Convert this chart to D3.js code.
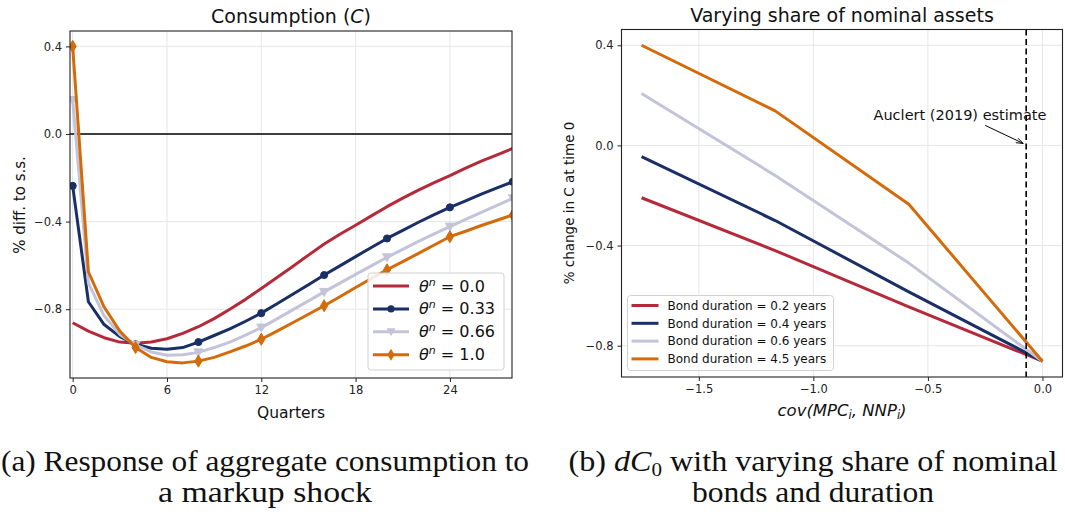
<!DOCTYPE html>
<html><head><meta charset="utf-8">
<script src="https://cdn.jsdelivr.net/npm/d3@7"></script>
<style>body{margin:0;background:#fff}svg{display:block;font-family:"DejaVu Sans",sans-serif}
.cap{font-family:"Liberation Serif","Times New Roman",Times,serif}</style>
</head><body>
<svg id="c" width="1065" height="515"></svg>
<script>
// ---------- data ----------
const quarters = d3.range(0, 29);
const thetaLabels = ["0.0", "0.33", "0.66", "1.0"];
const cTheta00 = [-0.862,-0.900,-0.930,-0.950,-0.955,-0.950,-0.935,-0.910,-0.880,-0.843,-0.800,-0.755,-0.705,-0.655,-0.605,-0.553,-0.502,-0.458,-0.417,-0.374,-0.332,-0.293,-0.256,-0.222,-0.190,-0.156,-0.124,-0.095,-0.066];
const cTheta33 = [-0.237,-0.766,-0.870,-0.925,-0.960,-0.978,-0.983,-0.975,-0.950,-0.920,-0.890,-0.855,-0.818,-0.775,-0.732,-0.688,-0.644,-0.602,-0.560,-0.518,-0.477,-0.440,-0.403,-0.368,-0.335,-0.305,-0.275,-0.246,-0.218];
const cTheta66 = [0.155,-0.680,-0.830,-0.915,-0.963,-0.995,-1.010,-1.008,-0.997,-0.975,-0.950,-0.918,-0.884,-0.844,-0.803,-0.762,-0.721,-0.681,-0.641,-0.602,-0.563,-0.527,-0.490,-0.456,-0.423,-0.390,-0.358,-0.326,-0.294];
const cTheta10 = [0.400,-0.629,-0.790,-0.900,-0.975,-1.020,-1.040,-1.045,-1.037,-1.020,-0.995,-0.968,-0.937,-0.900,-0.862,-0.823,-0.784,-0.743,-0.701,-0.660,-0.620,-0.583,-0.545,-0.507,-0.469,-0.444,-0.418,-0.394,-0.370];
const leftXTicks = [0, 6, 12, 18, 24];
const leftYTicks = [0.4, 0.0, -0.4, -0.8];

const covValues = [-1.75, -1.1667, -0.5833, 0.0];
const durationLabels = ["0.2", "0.4", "0.6", "4.5"];
const dur02 = [-0.209, -0.420, -0.645, -0.862];
const dur04 = [-0.045, -0.300, -0.585, -0.862];
const dur06 = [0.207, -0.120, -0.470, -0.862];
const dur45 = [0.400, 0.138, -0.235, -0.862];
const auclertEstimate = -0.071;
const rightXTicks = [-1.5, -1.0, -0.5, 0.0];
const rightYTicks = [0.4, 0.0, -0.4, -0.8];

const colors = ["#b52a3a", "#192f65", "#c3c3da", "#d36b0a"];

// ---------- helpers ----------
const svg = d3.select("#c");
const fmt = v => d3.format(".1f")(v).replace("-", "\u2212");
const TICK_FS = 11.5;

function axesFrame(g, x, y, xt, yt, w, h) {
  g.append("g").selectAll("line").data(xt).join("line")
    .attr("x1", d => x(d)).attr("x2", d => x(d)).attr("y1", 0).attr("y2", h)
    .attr("stroke", "#e6e6e6").attr("stroke-width", 1);
  g.append("g").selectAll("line").data(yt).join("line")
    .attr("y1", d => y(d)).attr("y2", d => y(d)).attr("x1", 0).attr("x2", w)
    .attr("stroke", "#e6e6e6").attr("stroke-width", 1);
}
function axesTicks(g, x, y, xt, yt, w, h) {
  const ax = g.append("g").attr("transform", `translate(0,${h})`)
    .call(d3.axisBottom(x).tickValues(xt).tickSize(4).tickPadding(4)
      .tickFormat(d => xt.every(Number.isInteger) ? String(d) : fmt(d)));
  const ay = g.append("g").call(d3.axisLeft(y).tickValues(yt).tickSize(4).tickPadding(4).tickFormat(fmt));
  [ax, ay].forEach(a => {
    a.select(".domain").remove();
    a.selectAll("line").attr("stroke", "#222");
    a.selectAll("text").attr("font-size", TICK_FS).attr("fill", "#222").style("font-family", "DejaVu Sans");
  });
  g.append("rect").attr("width", w).attr("height", h).attr("fill", "none")
    .attr("stroke", "#222").attr("stroke-width", 1.1);
}

// ---------- left panel ----------
{
  const L = {x: 70, y: 31, w: 442, h: 347};
  const g = svg.append("g").attr("transform", `translate(${L.x},${L.y})`);
  const x = d3.scaleLinear().domain([-0.17, 27.95]).range([0, L.w]);
  const y = d3.scaleLinear().domain([-1.114, 0.47]).range([L.h, 0]);
  axesFrame(g, x, y, leftXTicks, leftYTicks, L.w, L.h);
  g.append("clipPath").attr("id", "clipL").append("rect").attr("width", L.w).attr("height", L.h);
  const plot = g.append("g").attr("clip-path", "url(#clipL)");
  plot.append("line").attr("x1", 0).attr("x2", L.w).attr("y1", y(0)).attr("y2", y(0))
    .attr("stroke", "#000").attr("stroke-width", 1.6);
  const series = [cTheta00, cTheta33, cTheta66, cTheta10];
  const line = d3.line().x((d, i) => x(quarters[i])).y(d => y(d));
  const markers = [null, "circle", "triangle", "diamond"];
  const markerPath = (type) => {
    if (type === "circle") return d3.symbol(d3.symbolCircle, 40)();
    if (type === "triangle") return "M-4.5,-3.5L4.5,-3.5L0,4.5Z";
    if (type === "diamond") return "M0,-6L3.6,0L0,6L-3.6,0Z";
    return null;
  };
  series.forEach((s, k) => {
    plot.append("path").datum(s).attr("d", line).attr("fill", "none")
      .attr("stroke", colors[k]).attr("stroke-width", 3).attr("stroke-linejoin", "round");
    if (markers[k]) {
      plot.append("g").selectAll("path").data(s.map((v, i) => [quarters[i], v]).filter(d => d[0] % 4 === 0))
        .join("path").attr("d", markerPath(markers[k]))
        .attr("transform", d => `translate(${x(d[0])},${y(d[1])})`)
        .attr("fill", colors[k]).attr("stroke", colors[k]).attr("stroke-width", 1);
    }
  });
  axesTicks(g, x, y, leftXTicks, leftYTicks, L.w, L.h);
  const t = svg.append("text").attr("x", 291).attr("y", 23).attr("text-anchor", "middle").attr("font-size", 19).attr("fill", "#111");
  t.append("tspan").text("Consumption (");
  t.append("tspan").attr("font-style", "italic").text("C");
  t.append("tspan").text(")");
  svg.append("text").attr("x", 291).attr("y", 418).attr("text-anchor", "middle").attr("font-size", 15.5).attr("fill", "#111").text("Quarters");
  svg.append("text").attr("transform", "translate(25,205) rotate(-90)").attr("text-anchor", "middle").attr("font-size", 15).attr("fill", "#111").text("% diff. to s.s.");
  const lg = svg.append("g").attr("transform", "translate(368,273)");
  lg.append("rect").attr("width", 136).attr("height", 97).attr("rx", 3).attr("fill", "#fff").attr("fill-opacity", 0.85)
    .attr("stroke", "#d0d0d0").attr("stroke-width", 1);
  thetaLabels.forEach((lab, k) => {
    const yy = 13 + k * 22.9;
    lg.append("line").attr("x1", 5).attr("x2", 41).attr("y1", yy).attr("y2", yy).attr("stroke", colors[k]).attr("stroke-width", 3);
    if (markers[k]) lg.append("path").attr("d", markerPath(markers[k])).attr("transform", `translate(23,${yy})`).attr("fill", colors[k]);
    const tx = lg.append("text").attr("x", 51).attr("y", yy + 5.5).attr("font-size", 16).attr("fill", "#111");
    tx.append("tspan").attr("font-style", "italic").text("\u03b8");
    tx.append("tspan").attr("font-style", "italic").attr("font-size", 11).attr("dy", -6).text("n");
    tx.append("tspan").attr("dy", 6).text(" = " + lab);
  });
}

// ---------- right panel ----------
{
  const R = {x: 621.5, y: 29.5, w: 441, h: 347.5};
  const g = svg.append("g").attr("transform", `translate(${R.x},${R.y})`);
  const x = d3.scaleLinear().domain([-1.8375, 0.0875]).range([0, R.w]);
  const y = d3.scaleLinear().domain([-0.925, 0.463]).range([R.h, 0]);
  axesFrame(g, x, y, rightXTicks, rightYTicks, R.w, R.h);
  const series = [dur02, dur04, dur06, dur45];
  const line = d3.line().x((d, i) => x(covValues[i])).y(d => y(d));
  series.forEach((s, k) => {
    g.append("path").datum(s).attr("d", line).attr("fill", "none")
      .attr("stroke", colors[k]).attr("stroke-width", 3).attr("stroke-linejoin", "round");
  });
  g.append("line").attr("x1", x(auclertEstimate)).attr("x2", x(auclertEstimate)).attr("y1", 0).attr("y2", R.h)
    .attr("stroke", "#000").attr("stroke-width", 1.6).attr("stroke-dasharray", "6,3.5");
  const tipX = x(auclertEstimate) - 3, tipY = y(0.008);
  const sx = x(-0.25), sy = y(0.08);
  g.append("line").attr("x1", sx).attr("y1", sy).attr("x2", tipX).attr("y2", tipY).attr("stroke", "#000").attr("stroke-width", 1);
  const ang = Math.atan2(tipY - sy, tipX - sx);
  const hl = 7, hw = 2.5;
  g.append("path").attr("d", `M${tipX},${tipY}L${tipX - hl*Math.cos(ang) + hw*Math.sin(ang)},${tipY - hl*Math.sin(ang) - hw*Math.cos(ang)}M${tipX},${tipY}L${tipX - hl*Math.cos(ang) - hw*Math.sin(ang)},${tipY - hl*Math.sin(ang) + hw*Math.cos(ang)}`)
    .attr("stroke", "#000").attr("stroke-width", 1).attr("fill", "none");
  g.append("text").attr("x", x(-0.36)).attr("y", y(0.12) + 5).attr("text-anchor", "middle").attr("font-size", 14.5).attr("fill", "#111").text("Auclert (2019) estimate");
  axesTicks(g, x, y, rightXTicks, rightYTicks, R.w, R.h);
  svg.append("text").attr("x", 842).attr("y", 22).attr("text-anchor", "middle").attr("font-size", 19).attr("fill", "#111").text("Varying share of nominal assets");
  const xl = svg.append("text").attr("x", 842).attr("y", 416).attr("text-anchor", "middle").attr("font-size", 16.5).attr("font-style", "italic").attr("fill", "#111");
  xl.append("tspan").text("cov(MPC");
  xl.append("tspan").attr("font-size", 11.5).attr("dy", 3).text("i");
  xl.append("tspan").attr("dy", -3).text(", NNP");
  xl.append("tspan").attr("font-size", 11.5).attr("dy", 3).text("i");
  xl.append("tspan").attr("dy", -3).text(")");
  svg.append("text").attr("transform", "translate(574,203) rotate(-90)").attr("text-anchor", "middle").attr("font-size", 13.5).attr("fill", "#111").text("% change in C at time 0");
  const lg = svg.append("g").attr("transform", "translate(627.5,295.5)");
  lg.append("rect").attr("width", 206).attr("height", 75).attr("rx", 3).attr("fill", "#fff").attr("fill-opacity", 0.85)
    .attr("stroke", "#d0d0d0").attr("stroke-width", 1);
  durationLabels.forEach((lab, k) => {
    const yy = 10 + k * 17.8;
    lg.append("line").attr("x1", 4).attr("x2", 31).attr("y1", yy).attr("y2", yy).attr("stroke", colors[k]).attr("stroke-width", 3);
    lg.append("text").attr("x", 40).attr("y", yy + 4.3).attr("font-size", 12).attr("fill", "#111").text(`Bond duration = ${lab} years`);
  });
}

// ---------- captions ----------
function caption(cx, lines, w) {
  lines.forEach((ln, i) => {
    const t = svg.append("text").attr("class", "cap").attr("x", cx).attr("y", 471 + i * 31).attr("text-anchor", "middle")
      .attr("font-size", 29).attr("fill", "#111");
    ln.forEach(p => {
      const s = t.append("tspan").text(p.t);
      if (p.i) s.attr("font-style", "italic");
      if (p.sub) s.attr("font-size", 19).attr("dy", 5);
      if (p.up) s.attr("dy", -5);
    });
    if (w[i]) t.attr("textLength", w[i]).attr("lengthAdjust", "spacingAndGlyphs");
  });
}
caption(265, [[{t: "(a) Response of aggregate consumption to"}], [{t: "a markup shock"}]], [528, 214]);
caption(813, [[{t: "(b) "}, {t: "dC", i: true}, {t: "0", sub: true}, {t: " with varying share of nominal", up: true}], [{t: "bonds and duration"}]], [489, 242]);
</script>
</body></html>
